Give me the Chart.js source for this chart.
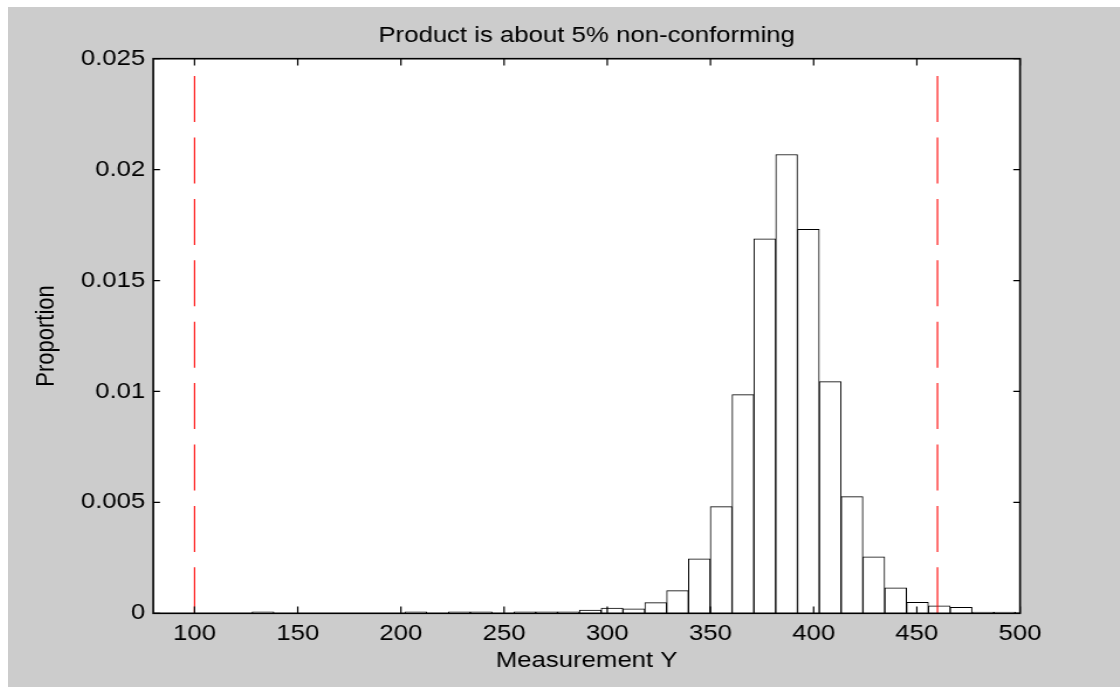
<!DOCTYPE html>
<html>
<head>
<meta charset="utf-8">
<title>Product is about 5% non-conforming</title>
<script src="https://cdn.jsdelivr.net/npm/chart.js@4.4.1/dist/chart.umd.min.js"></script>
<style>
  html, body { margin: 0; padding: 0; background: #ffffff; overflow: hidden; }
  #wrap {
    position: absolute; left: 8px; top: 7px;
    width: 950px; height: 680px;
    transform: scaleX(1.1705); transform-origin: 0 0;
  }
  #c { display: block; }
</style>
</head>
<body>
<div id="wrap"><canvas id="c" width="950" height="680"></canvas></div>
<script>
// Histogram bin centres (Measurement Y) and the proportion in each bin
const binCenters = [
  90.90, 101.47, 112.04, 122.61, 133.18, 143.76, 154.33, 164.90, 175.47, 186.04,
  196.61, 207.18, 217.75, 228.32, 238.89, 249.47, 260.04, 270.61, 281.18, 291.75,
  302.32, 312.89, 323.46, 334.03, 344.60, 355.18, 365.75, 376.32, 386.89, 397.46,
  408.03, 418.60, 429.17, 439.74, 450.31, 460.89, 471.46, 482.03, 492.60
];
const proportions = [
  0, 0, 0, 0, 0.00007, 0, 0, 0, 0, 0,
  0, 0.00007, 0, 0.00007, 0.00007, 0, 0.00007, 0.00007, 0.00007, 0.00014,
  0.00023, 0.0002, 0.00048, 0.00102, 0.00246, 0.00481, 0.00986, 0.01688, 0.02068, 0.01731,
  0.01044, 0.00526, 0.00254, 0.00115, 0.0005, 0.00034, 0.00027, 0.00006, 0.00006
];

// Specification limits, drawn as dashed verticals from 0 up to specLineTop
const lowerSpec = 100;
const upperSpec = 460;
const specLineTop = 0.02422;

// Axis ranges and ticks
const xRange = [80, 500];
const yRange = [0, 0.025];
const xTickValues = [100, 150, 200, 250, 300, 350, 400, 450, 500];
const xTickLabels = ['100', '150', '200', '250', '300', '350', '400', '450', '500'];
const yTickValues = [0, 0.005, 0.01, 0.015, 0.02, 0.025];
const yTickLabels = ['0', '0.005', '0.01', '0.015', '0.02', '0.025'];

const FONT = { family: '"Liberation Sans", Arial, Helvetica, sans-serif', size: 22, weight: 'normal' };

// Grey figure background with a white axes area
const backdrop = {
  id: 'backdrop',
  beforeDraw(chart) {
    const { ctx, chartArea: a } = chart;
    ctx.save();
    ctx.fillStyle = '#cccccc';
    ctx.fillRect(0, 0, chart.width, chart.height);
    ctx.fillStyle = '#ffffff';
    ctx.fillRect(a.left, a.top, a.right - a.left, a.bottom - a.top);
    ctx.restore();
  }
};

// Box frame with inward tick marks on all four sides
const frame = {
  id: 'frame',
  afterDatasetsDraw(chart) {
    const { ctx, chartArea: a, scales: { x, y } } = chart;
    const tickV = 6.7;           // vertical tick length
    const tickH = 6.7 / 1.1705;  // horizontal tick length
    ctx.save();
    ctx.strokeStyle = '#000000';
    ctx.lineWidth = 1.2;
    ctx.beginPath();
    x.ticks.forEach(t => {
      const px = x.getPixelForValue(t.value);
      ctx.moveTo(px, a.bottom); ctx.lineTo(px, a.bottom - tickV);
      ctx.moveTo(px, a.top); ctx.lineTo(px, a.top + tickV);
    });
    y.ticks.forEach(t => {
      const py = y.getPixelForValue(t.value);
      ctx.moveTo(a.left, py); ctx.lineTo(a.left + tickH, py);
      ctx.moveTo(a.right, py); ctx.lineTo(a.right - tickH, py);
    });
    ctx.stroke();
    ctx.lineWidth = 1.6;
    ctx.strokeRect(a.left, a.top, a.right - a.left, a.bottom - a.top);
    ctx.restore();
  }
};

const bars = binCenters.map((c, i) => ({ x: c, y: proportions[i] }));

function specLine(xv) {
  return {
    type: 'line',
    data: [{ x: xv, y: yRange[0] }, { x: xv, y: specLineTop }],
    borderColor: '#ff0000',
    borderWidth: 1.1,
    borderDash: [46, 15.4],
    pointRadius: 0,
    fill: false,
    order: 0
  };
}

new Chart(document.getElementById('c'), {
  type: 'bar',
  data: {
    datasets: [
      specLine(lowerSpec),
      specLine(upperSpec),
      {
        type: 'bar',
        data: bars,
        backgroundColor: '#ffffff',
        borderColor: '#000000',
        borderWidth: 1,
        borderSkipped: 'bottom',
        barPercentage: 1,
        categoryPercentage: 1,
        order: 1
      }
    ]
  },
  options: {
    responsive: false,
    animation: false,
    devicePixelRatio: 1,
    layout: { padding: { left: 0, right: 85.4, top: 0, bottom: 0 } },
    plugins: {
      legend: { display: false },
      tooltip: { enabled: false },
      title: {
        display: true,
        text: 'Product is about 5% non-conforming',
        color: '#000000',
        font: FONT,
        fullSize: false,
        padding: { top: 15.3, bottom: 10.0 }
      }
    },
    scales: {
      x: {
        type: 'linear',
        min: xRange[0],
        max: xRange[1],
        offset: false,
        grid: { display: false, drawTicks: false },
        border: { display: false },
        afterBuildTicks: s => { s.ticks = xTickValues.map(v => ({ value: v })); },
        afterFit: s => { s.height = 73.7; },
        ticks: {
          autoSkip: false,
          maxRotation: 0,
          padding: 7,
          color: '#000000',
          font: FONT,
          callback: (v, i) => xTickLabels[i]
        },
        title: {
          display: true,
          text: 'Measurement Y',
          color: '#000000',
          font: FONT,
          padding: { top: 0, bottom: 12.6 }
        }
      },
      y: {
        type: 'linear',
        min: yRange[0],
        max: yRange[1],
        grid: { display: false, drawTicks: false },
        border: { display: false },
        afterBuildTicks: s => { s.ticks = yTickValues.map(v => ({ value: v })); },
        afterFit: s => { s.width = 124.1; },
        ticks: {
          autoSkip: false,
          padding: 6.8,
          color: '#000000',
          font: FONT,
          callback: (v, i) => yTickLabels[i]
        },
        title: {
          display: true,
          text: 'Proportion',
          color: '#000000',
          font: FONT,
          padding: { top: 20.0, bottom: 0 }
        }
      }
    }
  },
  plugins: [backdrop, frame]
});
</script>
</body>
</html>
